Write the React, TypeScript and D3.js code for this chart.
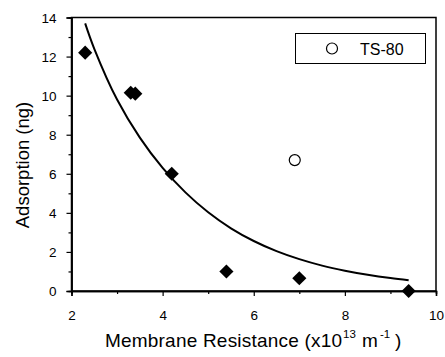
import React, { useRef, useEffect } from 'react';
import * as d3 from 'd3';

const resistance = [2.3, 3.3, 3.4, 4.2, 5.4, 7.0, 9.4];
const adsorption = [12.2, 10.15, 10.1, 6.0, 1.0, 0.65, 0.0];
const ts80X = [6.9];
const ts80Y = [6.7];
const fitX = [2.3, 2.5, 3, 3.5, 4, 4.5, 5, 5.5, 6, 6.5, 7, 7.5, 8, 8.5, 9, 9.4];
const fitY = [13.7, 12.4, 9.8, 7.85, 6.3, 5.05, 4.03, 3.21, 2.56, 2.04, 1.63, 1.3, 1.04, 0.83, 0.66, 0.55];
const xTicks = [2, 4, 6, 8, 10];
const yTicks = [0, 2, 4, 6, 8, 10, 12, 14];
const legendLabel = 'TS-80';

const W = 445;
const H = 357;

const App = () => {
  const svgRef = useRef(null);

  useEffect(() => {
    const svg = d3.select(svgRef.current);
    svg.selectAll('*').remove();
    const font = 'Liberation Sans, Arial, sans-serif';

    const x = d3.scaleLinear().domain([2, 10]).range([71.5, 436]);
    const y = d3.scaleLinear().domain([0, 14]).range([291, 17.5]);

    // frame
    svg.append('rect')
      .attr('x', x(2)).attr('y', y(14))
      .attr('width', x(10) - x(2)).attr('height', y(0) - y(14))
      .attr('fill', 'none').attr('stroke', '#000').attr('stroke-width', 1.5);

    // x axis
    const xAxis = svg.append('g').attr('transform', `translate(0,${y(0)})`);
    xAxis.call(d3.axisBottom(x).tickValues(xTicks).tickSize(5).tickFormat(d3.format('d')));
    xAxis.append('g').call(d3.axisBottom(x).tickValues([3, 5, 7, 9]).tickSize(3).tickFormat(() => ''));
    xAxis.selectAll('.domain').attr('stroke-width', 1.5);
    xAxis.selectAll('line').attr('stroke-width', 1.2);
    xAxis.selectAll('text')
      .attr('font-family', font).attr('font-size', 13.5).attr('fill', '#000')
      .attr('y', 29).attr('dy', 0);

    // y axis
    const yAxis = svg.append('g').attr('transform', `translate(${x(2)},0)`);
    yAxis.call(d3.axisLeft(y).tickValues(yTicks).tickSize(5).tickFormat(d3.format('d')));
    yAxis.append('g').call(d3.axisLeft(y).tickValues([1, 3, 5, 7, 9, 11, 13]).tickSize(3).tickFormat(() => ''));
    yAxis.selectAll('.domain').attr('stroke-width', 1.5);
    yAxis.selectAll('line').attr('stroke-width', 1.2);
    yAxis.selectAll('text')
      .attr('font-family', font).attr('font-size', 13.5).attr('fill', '#000')
      .attr('x', -15).attr('dy', '0.36em');

    // fitted curve
    const line = d3.line<number>()
      .x((d, i) => x(fitX[i]))
      .y((d) => y(d))
      .curve(d3.curveCatmullRom);
    svg.append('path')
      .attr('d', line(fitY))
      .attr('fill', 'none')
      .attr('stroke', '#000')
      .attr('stroke-width', 2);

    // diamonds
    const diamond = d3.symbol().type(d3.symbolSquare).size(100);
    svg.selectAll('.pt')
      .data(resistance)
      .enter()
      .append('path')
      .attr('class', 'pt')
      .attr('d', diamond())
      .attr('transform', (d, i) => `translate(${x(d)},${y(adsorption[i])}) rotate(45)`)
      .attr('fill', '#000');

    // open circle
    svg.selectAll('.ts')
      .data(ts80X)
      .enter()
      .append('circle')
      .attr('class', 'ts')
      .attr('cx', (d) => x(d))
      .attr('cy', (d, i) => y(ts80Y[i]))
      .attr('r', 5.5)
      .attr('fill', '#fff')
      .attr('stroke', '#000')
      .attr('stroke-width', 1.2);

    // legend
    const lg = svg.append('g');
    lg.append('rect')
      .attr('x', 295.5).attr('y', 33.5).attr('width', 130).attr('height', 30)
      .attr('fill', '#fff').attr('stroke', '#000').attr('stroke-width', 1);
    lg.append('circle')
      .attr('cx', 332).attr('cy', 48.5).attr('r', 5.5)
      .attr('fill', '#fff').attr('stroke', '#000').attr('stroke-width', 1.2);
    lg.append('text')
      .attr('x', 360).attr('y', 55)
      .attr('font-family', font).attr('font-size', 16)
      .text(legendLabel);

    // x axis label, pieces placed as in the original
    const xl = svg.append('g')
      .attr('font-family', font).attr('font-size', 19).attr('fill', '#000');
    xl.append('text').attr('x', 105).attr('y', 347)
      .attr('textLength', 237).attr('lengthAdjust', 'spacing')
      .text('Membrane Resistance (x10');
    xl.append('text').attr('x', 343).attr('y', 338).attr('font-size', 11.5).text('13');
    xl.append('text').attr('x', 362).attr('y', 347).text('m');
    xl.append('text').attr('x', 380).attr('y', 338).attr('font-size', 11.5).text('-1');
    xl.append('text').attr('x', 395).attr('y', 347).text(')');

    svg.append('text')
      .attr('transform', `translate(29,165) rotate(-90)`)
      .attr('text-anchor', 'middle')
      .attr('font-family', font).attr('font-size', 18.5)
      .text('Adsorption (ng)');
  }, []);

  return (
    <svg
      ref={svgRef}
      width={W}
      height={H}
      style={{ position: 'absolute', left: 0, top: 0, background: '#fff' }}
    />
  );
};

export default App;
